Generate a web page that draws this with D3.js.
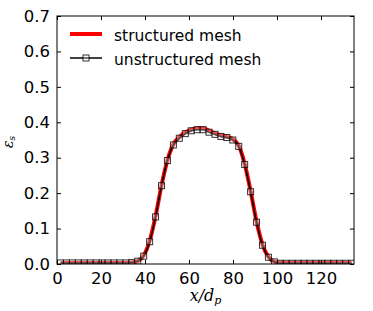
<!DOCTYPE html>
<html>
<head>
<meta charset="utf-8">
<script src="https://cdn.jsdelivr.net/npm/d3@7"></script>
<style>
  body { margin: 0; background: #fff; }
  svg { display: block; }
  text { font-family: "DejaVu Sans", sans-serif; }
</style>
</head>
<body>
<div id="chart"></div>
<script>
// sample positions x/dp (both meshes)
const xs = [1.6, 4.3, 7.0, 9.7, 12.4, 15.1, 17.8, 20.5, 23.2, 25.9,
  28.6, 31.3, 34.0, 36.7, 39.4, 42.1, 44.8, 47.5, 50.2, 52.9,
  55.6, 58.3, 61.0, 63.7, 66.4, 69.1, 71.8, 74.5, 77.2, 79.9,
  82.6, 85.3, 88.0, 90.7, 93.4, 96.1, 98.8, 101.5, 104.2, 106.9,
  109.6, 112.3, 115.0, 117.7, 120.4, 123.1, 125.8, 128.5, 131.2, 133.9];

const structured = [0.003, 0.003, 0.003, 0.003, 0.003, 0.003, 0.003, 0.003, 0.003, 0.003,
  0.003, 0.003, 0.004, 0.008, 0.024, 0.065, 0.135, 0.222, 0.293, 0.338,
  0.358, 0.371, 0.379, 0.383, 0.383, 0.376, 0.369, 0.363, 0.359, 0.352,
  0.334, 0.283, 0.206, 0.120, 0.055, 0.020, 0.006, 0.003, 0.003, 0.003,
  0.003, 0.003, 0.003, 0.003, 0.003, 0.003, 0.003, 0.003, 0.003, 0.003];

const unstructured = [0.003, 0.003, 0.003, 0.003, 0.003, 0.003, 0.003, 0.003, 0.003, 0.003,
  0.003, 0.003, 0.004, 0.008, 0.022, 0.063, 0.133, 0.221, 0.292, 0.336,
  0.355, 0.368, 0.376, 0.379, 0.379, 0.372, 0.366, 0.360, 0.357, 0.350,
  0.332, 0.281, 0.204, 0.118, 0.053, 0.019, 0.006, 0.002, 0.002, 0.002,
  0.002, 0.002, 0.002, 0.002, 0.002, 0.002, 0.002, 0.002, 0.002, 0.002];

const xTicks = [0, 20, 40, 60, 80, 100, 120];
const yTicks = [0.0, 0.1, 0.2, 0.3, 0.4, 0.5, 0.6, 0.7];

const width = 373, height = 311;
const margin = {top: 16, right: 19, bottom: 47, left: 57};
const w = width - margin.left - margin.right;
const h = height - margin.top - margin.bottom;

const svg = d3.select("#chart").append("svg")
    .attr("width", width)
    .attr("height", height);

const g = svg.append("g")
    .attr("transform", "translate(" + margin.left + "," + margin.top + ")");

const xScale = d3.scaleLinear().domain([0, 135]).range([0, w]);
const yScale = d3.scaleLinear().domain([0, 0.7]).range([h, 0]);

// clip to the axes box
g.append("clipPath").attr("id", "clip")
    .append("rect").attr("width", w).attr("height", h);

const plot = g.append("g").attr("clip-path", "url(#clip)");

const line = d3.line()
    .x((d, i) => xScale(xs[i]))
    .y(d => yScale(d))
    .curve(d3.curveMonotoneX);

plot.append("path")
    .datum(structured)
    .attr("d", line)
    .attr("fill", "none")
    .attr("stroke", "#ff0000")
    .attr("stroke-width", 4);

plot.append("path")
    .datum(unstructured)
    .attr("d", line)
    .attr("fill", "none")
    .attr("stroke", "#000")
    .attr("stroke-width", 1.5);

const ms = 6;
plot.selectAll(".mk")
    .data(unstructured)
    .enter()
    .append("rect")
    .attr("class", "mk")
    .attr("x", (d, i) => xScale(xs[i]) - ms / 2)
    .attr("y", d => yScale(d) - ms / 2)
    .attr("width", ms)
    .attr("height", ms)
    .attr("fill", "#fff")
    .attr("fill-opacity", 0.3)
    .attr("stroke", "#000")
    .attr("stroke-opacity", 0.8)
    .attr("stroke-width", 1);

// axes, ticks pointing inward on all four sides
const tickLen = 4;
const xAxis = d3.axisBottom(xScale).tickValues(xTicks).tickSizeInner(-tickLen).tickSizeOuter(0).tickPadding(8);
const xTop = d3.axisTop(xScale).tickValues(xTicks).tickSizeInner(-tickLen).tickSizeOuter(0).tickFormat("");
const yAxis = d3.axisLeft(yScale).tickValues(yTicks).tickSizeInner(-tickLen).tickSizeOuter(0).tickPadding(7)
    .tickFormat(d3.format(".1f"));
const yRight = d3.axisRight(yScale).tickValues(yTicks).tickSizeInner(-tickLen).tickSizeOuter(0).tickFormat("");

function styleAxis(sel) {
  sel.select(".domain").remove();
  sel.selectAll("line").attr("stroke", "#000").attr("stroke-width", 1);
  sel.selectAll("text").attr("fill", "#000").style("font-size", "16.5px")
     .style("font-family", "'DejaVu Sans', sans-serif");
}

g.append("g").attr("transform", "translate(0," + h + ")").call(xAxis).call(styleAxis);
g.append("g").call(xTop).call(styleAxis);
g.append("g").call(yAxis).call(styleAxis);
g.append("g").attr("transform", "translate(" + w + ",0)").call(yRight).call(styleAxis);

g.append("rect")
    .attr("width", w)
    .attr("height", h)
    .attr("fill", "none")
    .attr("stroke", "#000")
    .attr("stroke-width", 1);

// legend
const legend = g.append("g").attr("transform", "translate(13,18)");
legend.append("line")
    .attr("x1", 0).attr("x2", 32).attr("y1", 0).attr("y2", 0)
    .attr("stroke", "#ff0000").attr("stroke-width", 4);
legend.append("text")
    .attr("x", 44).attr("y", 6.5)
    .style("font-size", "15.5px")
    .text("structured mesh");
legend.append("line")
    .attr("x1", 0).attr("x2", 32).attr("y1", 24).attr("y2", 24)
    .attr("stroke", "#000").attr("stroke-width", 1.5);
legend.append("rect")
    .attr("x", 16 - ms / 2).attr("y", 24 - ms / 2)
    .attr("width", ms).attr("height", ms)
    .attr("fill", "#fff").attr("fill-opacity", 0.3)
    .attr("stroke", "#000").attr("stroke-opacity", 0.8);
legend.append("text")
    .attr("x", 44).attr("y", 30.5)
    .style("font-size", "15.5px")
    .text("unstructured mesh");

// axis labels
const xl = svg.append("text")
    .attr("x", margin.left + w / 2)
    .attr("y", 301)
    .attr("text-anchor", "middle")
    .style("font-family", "'DejaVu Serif', serif")
    .style("font-style", "italic")
    .style("font-size", "16px");
xl.append("tspan").text("x/d");
xl.append("tspan").attr("baseline-shift", "-25%").style("font-size", "11px").text("p");

const yl = svg.append("text")
    .attr("transform", "translate(13,142) rotate(-90)")
    .attr("text-anchor", "middle")
    .style("font-family", "'DejaVu Serif', serif")
    .style("font-style", "italic")
    .style("font-size", "14px");
yl.append("tspan").text("ε");
yl.append("tspan").attr("baseline-shift", "-25%").style("font-size", "9px").text("s");
</script>
</body>
</html>
